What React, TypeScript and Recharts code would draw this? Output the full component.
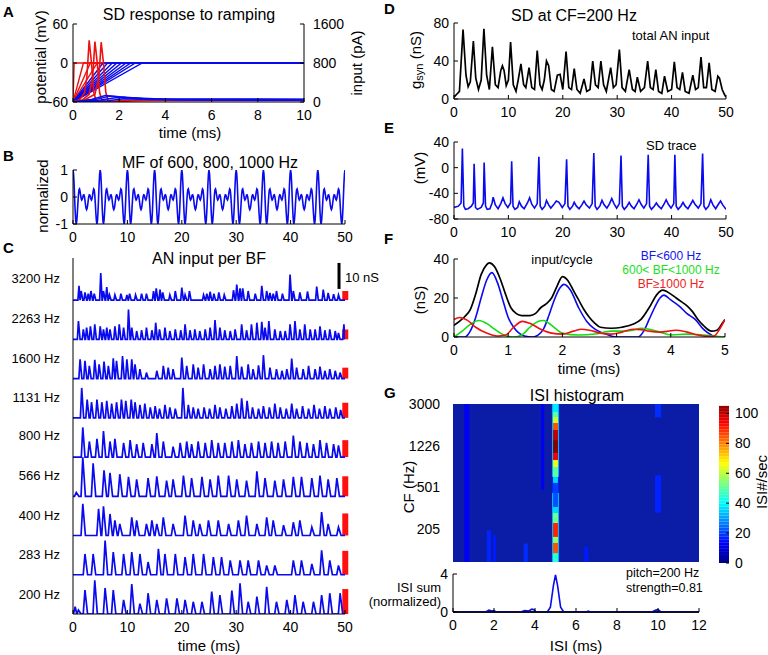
import React from "react";
import { LineChart, Line, XAxis, YAxis, ReferenceArea, ReferenceLine, ComposedChart, Scatter } from "recharts";

const FONT = '"Liberation Sans", Arial, Helvetica, sans-serif';
const BLUE = "#0a0aee";
const RED = "#ee1111";
const GREEN = "#11dd11";
const BLACK = "#000000";

// ---------------- Panel A : SD response to ramping ----------------
const aTimeTicks = [0, 2, 4, 6, 8, 10];
const aVoltTicks = [-60, 0, 60];
const aInputTicks = [0, 800, 1600];
const rampPlateau = 800;
const redRampEnds = [0.05, 0.45, 0.75, 1.05];
const blueRampEnds = [1.3, 1.5, 1.7, 1.9, 2.1, 2.3, 2.5, 2.7, 3.0];
const redVoltage = [
  [[0, -60], [0.3, -56], [0.5, -46], [0.6, -22], [0.7, 35], [0.8, 0], [0.9, -45], [1.0, -58], [1.3, -61], [2, -58], [3, -57], [10, -57]],
  [[0, -60], [0.4, -57], [0.7, -48], [0.85, -22], [0.95, 33], [1.05, 0], [1.15, -45], [1.25, -58], [1.6, -61], [2.2, -58], [3.5, -57], [10, -57]],
  [[0, -60], [0.5, -57], [0.95, -48], [1.12, -22], [1.22, 32], [1.32, 0], [1.42, -45], [1.52, -58], [1.9, -61], [2.5, -58], [4, -57.5], [10, -57.5]],
];
const blueVoltage = [
  [[0, -60], [0.8, -56], [1.4, -50], [2.0, -52], [3, -54.5], [4.5, -56], [10, -56]],
  [[0, -60], [1.0, -56], [1.6, -51], [2.3, -53], [3.5, -55], [10, -55.5]],
  [[0, -60], [1.2, -57], [1.9, -53], [2.6, -54.5], [4, -56], [10, -56.5]],
  [[0, -60], [1.5, -58], [2.2, -55], [3, -56], [4.5, -57], [10, -57.5]],
];

// ---------------- Panel B : MF of 600, 800, 1000 Hz ----------------
const bTimeTicks = [0, 10, 20, 30, 40, 50];
const bValueTicks = [-1, 0, 1];
const mfStepMs = 0.1;
const mfCycles = 10;
const mfPeriodValues = [
  1.0, 0.86, 0.48, -0.04, -0.53, -0.88, -1.0, -0.88, -0.59, -0.23,
  0.08, 0.27, 0.3, 0.21, 0.07, -0.06, -0.11, -0.08, -0.01, 0.07,
  0.08, 0.02, -0.12, -0.29, -0.42, -0.47, -0.42, -0.29, -0.12, 0.02,
  0.08, 0.07, -0.01, -0.08, -0.11, -0.06, 0.07, 0.21, 0.3, 0.27,
  0.08, -0.23, -0.59, -0.88, -1.0, -0.88, -0.53, -0.04, 0.48, 0.86,
];

// ---------------- Panel C : AN input per BF ----------------
const cTimeTicks = [0, 10, 20, 30, 40, 50];
const cRowLabels = ["3200 Hz", "2263 Hz", "1600 Hz", "1131 Hz", "800 Hz", "566 Hz", "400 Hz", "283 Hz", "200 Hz"];
const cRowSpacing = 15.1;
const cRedBars = [3.5, 3.8, 4.2, 5.8, 6.5, 7.7, 8.5, 9.2, 9.6];
const cScaleBar = 10;
const row3200 = [[1.1, 5.5], [1.5, 3.5], [2.2, 3], [2.8, 2.5], [3.3, 3.5], [3.9, 2.5], [5.1, 10.4], [5.6, 3.5], [6.2, 5], [6.7, 2], [7.7, 2], [8.8, 2.5], [9.9, 2], [10.4, 2.5], [11.5, 2], [12.6, 2.5], [13.5, 2.5], [14.8, 3.5], [15.3, 4.5], [16.0, 4], [16.5, 3], [17.8, 2], [18.8, 3.5], [20.0, 4.8], [20.6, 2], [21.4, 3.5], [24.0, 2], [24.6, 2.5], [25.2, 3.2], [25.9, 2.5], [26.8, 3], [27.8, 2], [29.5, 3.8], [30.1, 6], [30.7, 4.5], [31.2, 4.5], [32.2, 3.5], [33.5, 2.5], [34.7, 5.5], [35.6, 3.5], [36.2, 2.8], [36.8, 2.5], [37.4, 3.5], [38.5, 2.5], [39.9, 9.8], [40.5, 3.5], [41.7, 3], [43.1, 3.3], [44.8, 5.2], [46.0, 4], [46.9, 2.8], [47.9, 2.3], [48.8, 2]];
const row2263 = [[1.0, 7], [1.9, 3.8], [2.5, 4.5], [3.2, 5], [4.0, 5.8], [5.0, 5], [5.6, 3.8], [6.2, 4.5], [6.8, 3.8], [7.7, 5], [8.5, 5.8], [9.3, 4.5], [10.2, 11.5], [10.8, 4.5], [11.7, 3.2], [12.6, 3.5], [13.5, 4.5], [14.5, 3.5], [15.2, 6.4], [15.9, 3.8], [16.9, 4.5], [17.8, 3.2], [18.8, 3.8], [19.8, 3.5], [20.6, 5.8], [21.5, 3.5], [22.4, 3.8], [23.3, 3.2], [24.3, 3.8], [25.2, 4.5], [26.1, 7.4], [27.0, 4.5], [27.9, 3.5], [28.9, 3.2], [29.8, 3.8], [31.0, 5.8], [31.9, 3.5], [32.8, 5.8], [33.8, 6.4], [34.7, 6.7], [35.3, 4.5], [36.0, 7], [37.1, 3.8], [38.1, 3.2], [39.0, 3.2], [39.9, 5.8], [40.8, 7], [41.7, 3.8], [42.6, 5.8], [43.6, 3.8], [44.5, 3.8], [45.4, 5], [46.3, 3.5], [47.2, 3.8], [48.2, 3.2], [48.8, 2.5], [49.8, 5.8]];
const row1600 = [[1.3, 7.4], [2.2, 6.8], [3.0, 4.9], [4.0, 7.2], [4.8, 5.5], [5.7, 6.5], [6.5, 4.9], [7.4, 7.8], [8.0, 6.8], [9.1, 8.7], [9.9, 7.4], [10.8, 7.4], [11.4, 5.5], [12.3, 3.6], [13.5, 2.3], [15.4, 3], [16.6, 4.9], [17.5, 4.2], [18.4, 3.6], [20.0, 8.1], [20.9, 4.9], [22.1, 5.5], [23.0, 4.2], [24.0, 5.5], [25.2, 3.6], [26.1, 4.9], [27.0, 5.5], [27.9, 4.6], [28.9, 4.9], [30.1, 8.7], [31.0, 4.6], [32.2, 5.5], [33.1, 3.6], [34.1, 5.1], [35.0, 9], [36.2, 4.2], [37.4, 3.6], [38.4, 3], [39.3, 3.6], [40.2, 7.7], [41.1, 4.2], [42.3, 3.6], [43.3, 4.9], [44.5, 3.6], [45.4, 4.6], [46.3, 3], [47.2, 3.6], [48.2, 3], [49.1, 2.3]];
const row1131 = [[1.6, 11.5], [2.6, 7], [3.4, 6], [4.4, 7], [5.3, 6], [6.2, 6.5], [7.1, 5.5], [8.0, 6], [8.9, 7], [9.7, 6.5], [10.7, 7], [11.4, 6], [12.3, 5], [13.2, 5.5], [14.2, 4], [15.1, 4.5], [15.9, 3.5], [16.9, 5], [17.8, 4], [18.8, 3.5], [20.2, 11.5], [21.2, 5], [22.1, 4], [23.0, 3.5], [24.1, 4], [25.1, 3.5], [26.1, 5], [27.0, 4], [28.1, 3.5], [29.2, 4.5], [30.1, 5.5], [31.0, 7.5], [32.0, 6.5], [33.0, 4], [34.1, 3.5], [35.0, 4.5], [36.1, 4], [37.1, 5.5], [38.1, 4], [39.2, 3.5], [40.2, 5.5], [41.1, 3.5], [42.2, 4.5], [43.3, 3.5], [44.3, 5], [45.3, 3.5], [46.3, 4.5], [47.2, 3.5], [48.3, 4], [49.2, 3]];
const row800 = [[1.8, 11.4], [3.0, 6], [4.4, 7], [5.6, 10], [6.8, 6], [7.7, 7], [9.3, 5.5], [10.5, 6.5], [11.7, 5], [12.9, 5.5], [14.5, 5], [15.4, 9.2], [16.6, 6], [18.4, 4], [19.7, 5.5], [20.9, 6], [21.8, 5], [23.0, 6], [24.3, 5.5], [25.5, 6.5], [26.7, 5.5], [27.9, 5.5], [29.2, 6], [30.4, 6.5], [31.6, 5], [32.8, 5.5], [34.1, 6], [35.3, 5.5], [36.5, 6], [37.7, 5.5], [39.0, 6], [40.5, 8.3], [41.7, 6], [43.0, 5.5], [44.2, 5], [45.4, 6.5], [46.6, 5.5], [47.9, 5], [48.8, 4.5]];
const row566 = [[0.6, 1.5], [1.8, 15], [3.7, 12.7], [5.7, 10], [6.8, 9], [8.6, 8.5], [10.2, 7.5], [11.7, 6.5], [13.8, 7], [15.4, 7.7], [17.2, 6], [18.4, 6.5], [20.3, 8], [21.8, 7], [23.7, 7.5], [25.2, 6.5], [26.7, 8], [28.6, 8], [30.1, 6.5], [31.9, 6], [33.8, 9.6], [35.3, 7], [37.1, 6], [38.7, 6.5], [40.5, 7.5], [42.0, 7.5], [43.9, 7], [45.4, 8], [46.9, 6.5], [48.5, 7]];
const row400 = [[1.8, 12.2], [4.7, 10.3], [5.6, 11.2], [6.8, 8.3], [7.7, 5.8], [8.6, 4.5], [10.8, 7], [11.7, 5.8], [13.5, 4.5], [14.5, 5.8], [15.4, 4.5], [16.6, 7], [18.4, 4.5], [20.6, 7.7], [22.1, 5.8], [23.3, 4.5], [24.9, 5.8], [26.7, 5.8], [28.6, 4.5], [30.4, 5.8], [31.9, 7.7], [33.8, 4.5], [35.6, 7], [36.8, 5.8], [38.7, 4], [40.5, 5.1], [41.7, 5.8], [43.9, 3.2], [45.7, 9], [46.9, 4.5], [48.8, 3.2]];
const row283 = [[2.2, 8], [3.7, 8], [5.9, 13.2], [7.4, 8.7], [9.3, 8], [10.8, 8.7], [12.3, 8], [13.8, 4.9], [15.7, 10], [16.9, 8], [18.8, 8], [20.6, 6.8], [22.1, 8], [24.0, 8], [25.8, 6.8], [27.3, 6.8], [28.9, 5.5], [30.7, 5.5], [32.2, 5.5], [34.1, 5.5], [35.6, 3.6], [37.1, 3.6], [40.5, 5.5], [42.0, 5.5], [43.9, 4.2], [45.7, 9.4], [47.2, 5.5], [48.8, 3.6]];
const row200 = [[0.4, 2.8], [1.0, 1.5], [2.2, 9.2], [4.0, 13], [5.9, 10], [7.4, 9.2], [9.3, 5.4], [10.8, 11.5], [12.3, 4], [13.8, 8], [15.4, 5.4], [17.2, 6], [19.1, 6], [20.6, 5.4], [22.1, 4.7], [23.7, 4.7], [25.5, 8.6], [27.0, 7.3], [29.2, 9], [30.7, 11.8], [32.2, 4.7], [33.8, 6.7], [35.6, 10.5], [37.4, 4.7], [39.3, 5.4], [40.8, 7.3], [42.3, 4.7], [44.2, 4.7], [45.7, 7.3], [47.2, 8], [49.1, 8]];
const cRows = [row3200, row2263, row1600, row1131, row800, row566, row400, row283, row200];
const cPeakHalfWidths = [0.25, 0.25, 0.28, 0.3, 0.34, 0.4, 0.4, 0.4, 0.4];

// ---------------- Panel D : total AN input ----------------
const dTimeTicks = [0, 10, 20, 30, 40, 50];
const dValueTicks = [0, 40, 80];
const dTotalInput = [[0, 2], [0.5, 5], [1.0, 8], [1.66, 73], [2.2, 25], [2.6, 13], [3.0, 18], [3.56, 61], [4.0, 22], [4.5, 10], [5.0, 20], [5.5, 74], [6.0, 25], [6.5, 10], [7.06, 55], [7.6, 15], [8.1, 12], [8.6, 30], [8.9, 35], [9.2, 30], [9.6, 14], [10.0, 20], [10.4, 60], [10.9, 15], [11.4, 8], [11.8, 20], [12.3, 37], [12.8, 15], [13.2, 12], [13.8, 33], [14.3, 12], [14.8, 10], [15.3, 51], [15.8, 15], [16.2, 10], [16.6, 20], [17.0, 40], [17.4, 35], [17.9, 10], [18.4, 8], [19.0, 25], [19.5, 26], [20.0, 10], [20.6, 50], [21.1, 12], [21.6, 10], [22.1, 32], [22.6, 10], [23.2, 6], [23.9, 21], [24.4, 8], [25.0, 10], [25.5, 40], [26.0, 15], [26.5, 12], [27.0, 40], [27.5, 15], [28.0, 8], [28.8, 33], [29.3, 12], [29.8, 15], [30.4, 52], [30.9, 12], [31.5, 8], [32.2, 31], [32.8, 10], [33.3, 8], [33.7, 23], [34.3, 8], [35.0, 12], [35.6, 40], [36.1, 12], [36.6, 10], [37.1, 31], [37.6, 8], [38.2, 6], [38.7, 24], [39.3, 8], [40.0, 10], [40.5, 39], [41.0, 12], [41.5, 10], [42.0, 28], [42.5, 8], [43.2, 6], [43.9, 25], [44.4, 10], [44.9, 12], [45.4, 44], [45.9, 12], [46.4, 12], [46.9, 38], [47.4, 10], [48.0, 8], [48.5, 24], [48.8, 22], [49.3, 10], [49.7, 5], [50, 2]];

// ---------------- Panel E : SD trace ----------------
const eValueTicks = [-80, -40, 0, 40];
const eTrace = [[0, -62], [0.8, -60], [1.3, -55], [1.54, 30], [1.8, -60], [2.1, -65], [2.6, -64], [3.2, -60], [3.55, -55], [3.7, 6], [3.95, -62], [4.3, -65], [5.0, -62], [5.4, -55], [5.54, 8], [5.8, -60], [6.1, -65], [6.6, -64], [7.0, -55], [7.2, -46], [7.6, -58], [8.1, -64], [8.6, -56], [9.0, -47], [9.4, -56], [9.9, -62], [10.4, -55], [10.6, 10], [10.85, -60], [11.2, -65], [11.7, -62], [12.0, -53], [12.4, -60], [12.9, -64], [13.5, -55], [13.9, -47], [14.3, -57], [14.8, -63], [15.3, -56], [15.6, 17], [15.85, -60], [16.2, -65], [16.7, -60], [17.0, -51], [17.4, -58], [17.8, -63], [18.3, -58], [18.8, -52], [19.3, -54], [19.9, -62], [20.4, -56], [20.7, 13], [20.95, -60], [21.3, -65], [21.8, -60], [22.1, -54], [22.5, -60], [23.0, -64], [23.5, -58], [23.9, -52], [24.3, -58], [24.9, -63], [25.4, -56], [25.7, 23], [25.95, -60], [26.3, -65], [26.8, -60], [27.2, -51], [27.6, -58], [28.1, -63], [28.6, -56], [29.0, -48], [29.4, -56], [29.9, -63], [30.4, -56], [30.7, 19], [30.95, -60], [31.3, -65], [31.8, -60], [32.2, -54], [32.6, -60], [33.1, -64], [33.6, -57], [34.0, -50], [34.4, -57], [34.9, -63], [35.4, -56], [35.7, 20], [35.95, -60], [36.3, -65], [36.8, -60], [37.2, -55], [37.6, -60], [38.1, -64], [38.6, -57], [39.0, -50], [39.4, -57], [39.9, -63], [40.4, -56], [40.6, 20], [40.85, -60], [41.2, -65], [41.7, -60], [42.1, -54], [42.5, -60], [43.0, -64], [43.5, -57], [43.9, -51], [44.3, -57], [44.9, -63], [45.4, -56], [45.7, 22], [45.95, -60], [46.3, -65], [46.8, -60], [47.2, -50], [47.6, -58], [48.1, -64], [48.6, -57], [49.0, -52], [49.4, -58], [50, -65]];

// ---------------- Panel F : input per cycle ----------------
const fTimeTicks = [0, 1, 2, 3, 4, 5];
const fValueTicks = [0, 20, 40];
const fTotal = [[0, 6], [0.1, 8], [0.2, 10.5], [0.3, 14], [0.4, 22], [0.5, 32], [0.6, 37], [0.65, 38], [0.75, 36], [0.85, 30], [0.95, 22], [1.05, 15], [1.15, 12], [1.25, 11], [1.4, 11], [1.5, 12], [1.6, 15], [1.7, 17], [1.8, 20], [1.9, 26], [2.0, 31], [2.1, 29], [2.2, 24], [2.3, 19], [2.4, 14], [2.5, 10], [2.6, 7], [2.7, 5], [2.9, 4.5], [3.1, 5], [3.3, 6.5], [3.45, 9], [3.6, 15], [3.75, 22], [3.85, 24], [4.0, 22], [4.1, 20], [4.2, 18], [4.3, 16], [4.4, 13], [4.5, 9], [4.6, 6], [4.75, 3], [4.85, 3.5], [4.95, 7], [5.0, 9]];
const fLowBF = [[0, 0], [0.2, 0], [0.3, 3], [0.4, 10], [0.5, 20], [0.6, 29], [0.7, 33], [0.8, 28], [0.9, 19], [1.0, 10], [1.1, 5], [1.2, 2], [1.3, 0.5], [1.45, 0], [1.55, 1], [1.65, 4], [1.75, 11], [1.85, 19], [1.95, 25], [2.03, 27], [2.15, 24], [2.3, 15], [2.45, 8], [2.6, 4], [2.75, 2], [2.9, 0.5], [3.0, 0], [3.4, 0], [3.5, 3], [3.6, 9], [3.7, 15], [3.8, 20], [3.87, 21.5], [4.0, 19], [4.15, 16], [4.3, 12], [4.45, 9], [4.6, 4], [4.75, 1], [4.85, 0], [5.0, 0]];
const fMidBF = [[0, 0], [0.15, 3], [0.3, 6.5], [0.46, 8.5], [0.6, 7], [0.75, 4], [0.92, 1], [1.1, 0], [1.25, 1], [1.4, 5], [1.55, 8], [1.65, 8.5], [1.8, 6], [2.0, 2], [2.3, 1], [2.6, 1.5], [2.9, 3], [3.1, 3], [3.3, 3.5], [3.45, 4.5], [3.6, 4], [3.8, 2.5], [4.0, 1], [4.3, 1.5], [4.5, 1.2], [4.8, 0.5], [5.0, 0]];
const fHighBF = [[0, 9], [0.1, 10], [0.25, 8.5], [0.4, 5], [0.6, 2], [0.8, 0.5], [0.95, 1], [1.1, 5], [1.26, 8], [1.4, 7], [1.6, 4], [1.8, 2], [2.0, 1.5], [2.2, 3], [2.35, 4], [2.5, 3.5], [2.7, 2], [2.9, 1.5], [3.1, 2.5], [3.3, 4], [3.45, 3.8], [3.6, 3], [3.8, 2.5], [4.0, 3.2], [4.1, 3.5], [4.3, 2.5], [4.5, 1], [4.7, 0.3], [4.8, 0.5], [4.9, 4], [5.0, 9]];

// ---------------- Panel G : ISI histogram ----------------
const gIsiTicks = [0, 2, 4, 6, 8, 10, 12];
const gCfTicks = [205, 501, 1226, 3000];
const gCfRange = [101, 3000];
const gRateTicks = [0, 20, 40, 60, 80, 100];
const gRateMax = 107;
const gBackgroundColor = "#0b1ca6";
// [isi start (ms), isi end (ms), CF low (Hz), CF high (Hz), ISI#/sec]
const heatCells = [
  [0.55, 0.8, 101, 3000, 12], [4.3, 4.45, 480, 3000, 12],
  [9.85, 10.15, 2250, 3000, 18], [9.85, 10.15, 290, 650, 17],
  [1.65, 1.85, 101, 200, 17], [1.95, 2.1, 101, 180, 16],
  [3.45, 3.65, 101, 150, 18], [6.4, 6.6, 101, 140, 16],
  [4.83, 5.17, 627, 3000, 32], [4.83, 5.17, 444, 627, 17], [4.83, 5.17, 101, 444, 32],
  [4.88, 5.12, 2525, 3000, 38], [4.88, 5.12, 2270, 2525, 50], [4.88, 5.12, 1995, 2270, 62],
  [4.88, 5.12, 1718, 1995, 85], [4.88, 5.12, 1384, 1718, 100], [4.88, 5.12, 1047, 1384, 106],
  [4.88, 5.12, 901, 1047, 95], [4.88, 5.12, 776, 901, 65], [4.88, 5.12, 627, 776, 50],
  [4.88, 5.12, 551, 627, 36], [4.88, 5.12, 444, 551, 20], [4.88, 5.12, 329, 444, 22],
  [4.88, 5.12, 289, 329, 36], [4.88, 5.12, 233, 289, 52], [4.88, 5.12, 173, 233, 90],
  [4.88, 5.12, 152, 173, 55], [4.88, 5.12, 122, 152, 85], [4.88, 5.12, 101, 122, 45],
];
const gSumTicks = [0, 4];
const gIsiSum = [[0, 0], [1.6, 0], [1.75, 0.2], [1.9, 0.1], [2.0, 0.15], [2.1, 0], [3.3, 0], [3.5, 0.15], [3.7, 0.1], [3.85, 0.3], [3.95, 0.25], [4.05, 0], [4.6, 0], [4.75, 0.5], [4.9, 2.8], [5.0, 3.9], [5.1, 2.8], [5.25, 0.5], [5.4, 0], [6.5, 0], [6.6, 0.1], [6.7, 0], [9.7, 0], [9.9, 0.2], [10.0, 0.25], [10.15, 0], [12, 0]];

// ---------------- helpers ----------------
const PAD = { l: 60, r: 60, t: 12, b: 30 };
type Rect = { x0: number; y0: number; x1: number; y1: number };
function frame(r: Rect, has: { left?: boolean; right?: boolean; bottom?: boolean }) {
  return {
    width: r.x1 - r.x0 + PAD.l + PAD.r,
    height: r.y1 - r.y0 + PAD.t + PAD.b,
    style: { position: "absolute" as const, left: r.x0 - PAD.l, top: r.y0 - PAD.t },
    margin: { top: PAD.t, left: has.left ? 0 : PAD.l, right: has.right ? 0 : PAD.r, bottom: has.bottom ? 0 : PAD.b },
  };
}
const pairs = (arr: number[][], offset = 0) => arr.map(([t, v]) => ({ t, v: v + offset }));
function peaksToTrace(peaks: number[][], w: number, offset: number) {
  const pts: { t: number; v: number }[] = [{ t: 0, v: offset }];
  for (let i = 0; i < peaks.length; i++) {
    const [t, h] = peaks[i];
    const prev = i > 0 ? peaks[i - 1][0] : -100;
    const next = i < peaks.length - 1 ? peaks[i + 1][0] : 100;
    const l = Math.max(t - w * 0.8, (prev + t) / 2, 0);
    const r = Math.min(t + w * 1.2, (t + next) / 2, 50);
    pts.push({ t: l, v: offset }, { t, v: offset + h }, { t: r, v: offset });
  }
  pts.push({ t: 50, v: offset });
  return pts;
}
function jet(x: number) {
  const c = (v: number) => Math.round(255 * Math.max(0, Math.min(1, v)));
  const r = Math.min(4 * x - 1.5, -4 * x + 4.5);
  const g = Math.min(4 * x - 0.5, -4 * x + 3.5);
  const b = Math.min(4 * x + 0.5, -4 * x + 2.5);
  return `rgb(${c(r)},${c(g)},${c(b)})`;
}

const tickStyle = { fontSize: 14, fill: "#000", fontFamily: FONT };
const xAx = { type: "number" as const, dataKey: "t", height: PAD.b, tickSize: -4, tickMargin: 12, stroke: "#000", tick: tickStyle, allowDataOverflow: true, interval: 0 as const };
const yLeft = { type: "number" as const, width: PAD.l, tickSize: -4, tickMargin: 9, stroke: "#000", tick: tickStyle, allowDataOverflow: true, interval: 0 as const };
const yRight = { type: "number" as const, width: PAD.r, tickSize: -4, tickMargin: 13, stroke: "#000", tick: tickStyle, allowDataOverflow: true, interval: 0 as const, orientation: "right" as const };
const ln = { dot: false, isAnimationActive: false, dataKey: "v" };

// ---------------- panels ----------------
function PanelA() {
  const f = frame({ x0: 73, y0: 24, x1: 304, y1: 102 }, { left: true, right: true, bottom: true });
  const ramp = (end: number) => [{ t: 0, v: 0 }, { t: end, v: rampPlateau }, { t: 10, v: rampPlateau }];
  return (
    <div style={f.style}>
      <LineChart width={f.width} height={f.height} margin={f.margin}>
        <XAxis {...xAx} domain={[0, 10]} ticks={aTimeTicks} />
        <YAxis {...yLeft} yAxisId="v" domain={[-60, 60]} ticks={aVoltTicks} />
        <YAxis {...yRight} yAxisId="i" domain={[0, 1600]} ticks={aInputTicks} />
        {redRampEnds.map((e, i) => <Line key={"rr" + i} {...ln} yAxisId="i" data={ramp(e)} stroke={RED} strokeWidth={1.4} />)}
        {blueRampEnds.map((e, i) => <Line key={"br" + i} {...ln} yAxisId="i" data={ramp(e)} stroke={BLUE} strokeWidth={1.4} />)}
        {redVoltage.map((d, i) => <Line key={"rv" + i} {...ln} yAxisId="v" data={pairs(d)} stroke={RED} strokeWidth={1.6} />)}
        {blueVoltage.map((d, i) => <Line key={"bv" + i} {...ln} yAxisId="v" data={pairs(d)} stroke={BLUE} strokeWidth={1.4} />)}
      </LineChart>
    </div>
  );
}

function PanelB() {
  const f = frame({ x0: 73, y0: 170, x1: 345, y1: 224 }, { left: true, bottom: true });
  const data: { t: number; v: number }[] = [];
  for (let c = 0; c < mfCycles; c++) {
    mfPeriodValues.forEach((v, i) => data.push({ t: +(c * mfPeriodValues.length * mfStepMs + i * mfStepMs).toFixed(2), v }));
  }
  data.push({ t: 50, v: mfPeriodValues[0] });
  return (
    <div style={f.style}>
      <LineChart width={f.width} height={f.height} margin={f.margin}>
        <XAxis {...xAx} domain={[0, 50]} ticks={bTimeTicks} />
        <YAxis {...yLeft} domain={[-1, 1]} ticks={bValueTicks} />
        <Line {...ln} data={data} stroke={BLUE} strokeWidth={1.6} />
      </LineChart>
    </div>
  );
}

function PanelC() {
  const f = frame({ x0: 73, y0: 258, x1: 345, y1: 614 }, { left: true, bottom: true });
  const n = cRows.length;
  const top = (n - 1) * cRowSpacing;
  return (
    <div style={f.style}>
      <LineChart width={f.width} height={f.height} margin={f.margin}>
        <XAxis {...xAx} domain={[0, 50]} ticks={cTimeTicks} />
        <YAxis {...yLeft} domain={[0, 137]} tick={false} tickLine={false} />
        {cRows.map((peaks, i) => (
          <Line key={"c" + i} {...ln} data={peaksToTrace(peaks, cPeakHalfWidths[i], top - i * cRowSpacing)} stroke={BLUE} strokeWidth={1.7} />
        ))}
        {cRedBars.map((h, i) => (
          <ReferenceArea key={"rb" + i} x1={49.5} x2={50.6} y1={top - i * cRowSpacing} y2={top - i * cRowSpacing + h} fill="#ff1010" fillOpacity={1} stroke="none" ifOverflow="visible" />
        ))}
        <ReferenceLine segment={[{ x: 48.9, y: top + 4.3 }, { x: 48.9, y: top + 4.3 + cScaleBar }]} stroke="#000" strokeWidth={3} ifOverflow="visible" />
      </LineChart>
    </div>
  );
}

function PanelD() {
  const f = frame({ x0: 454, y0: 23, x1: 726, y1: 99 }, { left: true, bottom: true });
  return (
    <div style={f.style}>
      <LineChart width={f.width} height={f.height} margin={f.margin}>
        <XAxis {...xAx} domain={[0, 50]} ticks={dTimeTicks} />
        <YAxis {...yLeft} domain={[0, 80]} ticks={dValueTicks} />
        <Line {...ln} data={pairs(dTotalInput)} stroke={BLACK} strokeWidth={1.7} />
      </LineChart>
    </div>
  );
}

function PanelE() {
  const f = frame({ x0: 454, y0: 142, x1: 726, y1: 219 }, { left: true, bottom: true });
  return (
    <div style={f.style}>
      <LineChart width={f.width} height={f.height} margin={f.margin}>
        <XAxis {...xAx} domain={[0, 50]} ticks={dTimeTicks} />
        <YAxis {...yLeft} domain={[-80, 40]} ticks={eValueTicks} />
        <Line {...ln} data={pairs(eTrace)} stroke={BLUE} strokeWidth={1.6} />
      </LineChart>
    </div>
  );
}

function PanelF() {
  const f = frame({ x0: 454, y0: 259, x1: 725, y1: 337 }, { left: true, bottom: true });
  return (
    <div style={f.style}>
      <LineChart width={f.width} height={f.height} margin={f.margin}>
        <XAxis {...xAx} domain={[0, 5]} ticks={fTimeTicks} />
        <YAxis {...yLeft} domain={[0, 40]} ticks={fValueTicks} />
        <Line {...ln} type="monotone" data={pairs(fTotal)} stroke={BLACK} strokeWidth={1.7} />
        <Line {...ln} type="monotone" data={pairs(fLowBF)} stroke={BLUE} strokeWidth={1.6} />
        <Line {...ln} type="monotone" data={pairs(fMidBF)} stroke={GREEN} strokeWidth={1.6} />
        <Line {...ln} type="monotone" data={pairs(fHighBF)} stroke={RED} strokeWidth={1.6} />
      </LineChart>
    </div>
  );
}

function PanelGHeat() {
  const f = frame({ x0: 453, y0: 404, x1: 699, y1: 562 }, { left: true });
  const centers = heatCells.map((c) => ({ x: (c[0] + c[1]) / 2, y: Math.sqrt(c[2] * c[3]) }));
  return (
    <div style={f.style}>
      <ComposedChart width={f.width} height={f.height} margin={f.margin}>
        <XAxis type="number" dataKey="x" domain={[0, 12]} hide allowDataOverflow />
        <YAxis type="number" dataKey="y" scale="log" domain={gCfRange} ticks={gCfTicks} width={PAD.l} axisLine={false} tickLine={false} tickMargin={7} tick={tickStyle} allowDataOverflow interval={0} />
        <ReferenceArea x1={0} x2={12} y1={gCfRange[0]} y2={gCfRange[1]} fill={gBackgroundColor} fillOpacity={1} stroke="none" />
        {heatCells.map((c, i) => (
          <ReferenceArea key={"h" + i} x1={c[0]} x2={c[1]} y1={c[2]} y2={c[3]} fill={jet(c[4] / gRateMax)} fillOpacity={1} stroke="none" />
        ))}
        <Scatter data={centers} isAnimationActive={false} shape={() => <g />} />
      </ComposedChart>
    </div>
  );
}

function ColorBar() {
  const f = frame({ x0: 719, y0: 403, x1: 729, y1: 563 }, { right: true });
  const strips = 54;
  const step = gRateMax / strips;
  const idx = Array.from({ length: strips }, (_, i) => i);
  return (
    <div style={f.style}>
      <ComposedChart width={f.width} height={f.height} margin={f.margin}>
        <XAxis type="number" dataKey="x" domain={[0, 1]} hide allowDataOverflow />
        <YAxis {...yRight} dataKey="y" domain={[0, gRateMax]} ticks={gRateTicks} axisLine={false} tickSize={-3} tickMargin={9} />
        {idx.map((i) => (
          <ReferenceArea key={"cb" + i} x1={0} x2={1} y1={i * step} y2={(i + 1) * step + 0.05} fill={jet((i + 0.5) / strips)} fillOpacity={1} stroke="none" />
        ))}
        <Scatter data={[{ x: 0.5, y: 0 }, { x: 0.5, y: gRateMax }]} isAnimationActive={false} shape={() => <g />} />
      </ComposedChart>
    </div>
  );
}

function PanelGSum() {
  const f = frame({ x0: 453, y0: 574, x1: 699, y1: 612 }, { left: true, bottom: true });
  return (
    <div style={f.style}>
      <LineChart width={f.width} height={f.height} margin={f.margin}>
        <XAxis {...xAx} domain={[0, 12]} ticks={gIsiTicks} />
        <YAxis {...yLeft} domain={[0, 4]} ticks={gSumTicks} />
        <ReferenceLine y={0} stroke="#222" strokeWidth={2} />
        <Line {...ln} data={pairs(gIsiSum)} stroke={BLUE} strokeWidth={1.6} />
      </LineChart>
    </div>
  );
}

function Overlay() {
  const T = (p: { x: number; y: number; s?: number; a?: "start" | "middle" | "end"; b?: boolean; c?: string; r?: boolean; children: React.ReactNode }) => (
    <text
      x={p.x}
      y={p.y}
      fontSize={p.s ?? 15}
      textAnchor={p.a ?? "middle"}
      dominantBaseline="central"
      fontWeight={p.b ? "bold" : "normal"}
      fill={p.c ?? "#000"}
      transform={p.r ? `rotate(-90 ${p.x} ${p.y})` : undefined}
      fontFamily={FONT}
    >
      {p.children}
    </text>
  );
  const rowCenters = [278, 318, 358, 397, 435, 475, 515, 554, 594];
  return (
    <svg width={768} height={655} style={{ position: "absolute", left: 0, top: 0, pointerEvents: "none" }}>
      <T x={3} y={11} a="start" b s={15}>A</T>
      <T x={3} y={155} a="start" b s={15}>B</T>
      <T x={3} y={247} a="start" b s={15}>C</T>
      <T x={384} y={8} a="start" b s={15}>D</T>
      <T x={384} y={127} a="start" b s={15}>E</T>
      <T x={384} y={238} a="start" b s={15}>F</T>
      <T x={384} y={392} a="start" b s={15}>G</T>

      <T x={189} y={14} s={16}>SD response to ramping</T>
      <T x={210} y={162} s={16}>MF of 600, 800, 1000 Hz</T>
      <T x={209} y={258} s={16}>AN input per BF</T>
      <T x={574} y={15} s={16}>SD at CF=200 Hz</T>
      <T x={577} y={395} s={16}>ISI histogram</T>

      <T x={40} y={57} r>potential (mV)</T>
      <T x={356} y={63} r>input (pA)</T>
      <T x={190} y={132}>time (ms)</T>
      <T x={42} y={196} r>normalized</T>
      <T x={209} y={645}>time (ms)</T>
      <text x={415} y={60} fontSize={15} textAnchor="middle" dominantBaseline="central" transform="rotate(-90 415 60)" fontFamily={FONT}>
        g<tspan fontSize={11} dy={4}>syn</tspan>
        <tspan dy={-4}> (nS)</tspan>
      </text>
      <T x={419} y={168} r>(mV)</T>
      <T x={419} y={300} r>(nS)</T>
      <T x={589} y={368}>time (ms)</T>
      <T x={408} y={487} r>CF (Hz)</T>
      <T x={761} y={482} r>ISI#/sec</T>
      <T x={576} y={645}>ISI (ms)</T>

      {cRowLabels.map((l, i) => (
        <T key={l} x={60} y={rowCenters[i]} a="end" s={13}>{l}</T>
      ))}
      <T x={345} y={277} a="start" s={13}>10 nS</T>
      <T x={632} y={35} a="start" s={13}>total AN input</T>
      <T x={646} y={145} a="start" s={13}>SD trace</T>
      <T x={562} y={259} s={13}>input/cycle</T>
      <T x={671} y={256} s={12} c="#1414ee">BF&lt;600 Hz</T>
      <T x={671} y={270} s={12} c="#22dd22">600&lt; BF&lt;1000 Hz</T>
      <T x={671} y={284} s={12} c="#ee2222">BF≥1000 Hz</T>
      <T x={441} y={587} a="end" s={13}>ISI sum</T>
      <T x={441} y={601} a="end" s={13}>(normalized)</T>
      <T x={626} y={573} a="start" s={12.5}>pitch=200 Hz</T>
      <T x={626} y={588} a="start" s={12.5}>strength=0.81</T>
    </svg>
  );
}

export default function App() {
  return (
    <div style={{ position: "absolute", left: 0, top: 0, width: 768, height: 655, background: "#fff", overflow: "hidden", fontFamily: FONT }}>
      <PanelA />
      <PanelB />
      <PanelC />
      <PanelD />
      <PanelE />
      <PanelF />
      <PanelGHeat />
      <ColorBar />
      <PanelGSum />
      <Overlay />
    </div>
  );
}
